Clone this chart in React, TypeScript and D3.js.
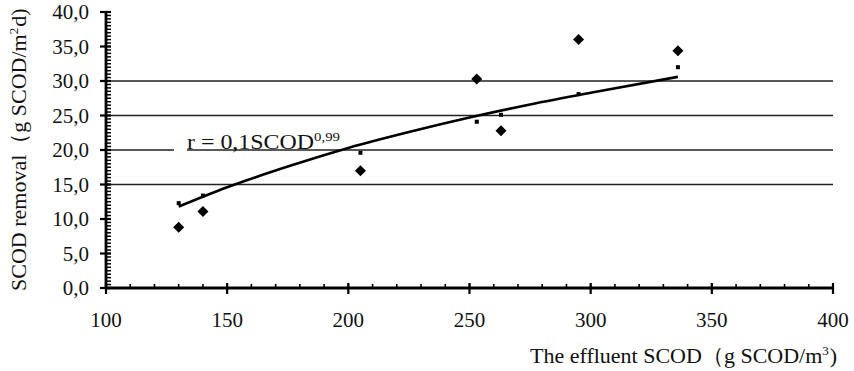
import React from "react";
import * as d3 from "d3";

const measuredX = [130, 140, 205, 253, 263, 295, 336];
const measuredY = [8.8, 11.1, 17.0, 30.3, 22.8, 36.0, 34.4];
const predictedX = [130, 140, 205, 253, 263, 295, 336];
const predictedY = [12.3, 13.4, 19.6, 24.1, 25.1, 28.1, 32.0];
const trendX = [130, 150, 175, 200, 225, 250, 275, 300, 336];
const trendY = [11.8, 14.6, 17.6, 20.3, 22.6, 24.7, 26.6, 28.3, 30.6];
const xTicks = [100, 150, 200, 250, 300, 350, 400];
const yTicks = [0, 5, 10, 15, 20, 25, 30, 35, 40];
const gridValues = [15, 20, 25, 30];

export default function App() {
  const W = 854, H = 371;
  const x = d3.scaleLinear().domain([100, 400]).range([106, 833]);
  const y = d3.scaleLinear().domain([0, 40]).range([288, 12]);
  const font = "'Liberation Serif', 'Times New Roman', serif";
  const line = d3
    .line<number>()
    .x((_, i) => x(trendX[i]))
    .y((d) => y(d))
    .curve(d3.curveMonotoneX);
  const yMinor = d3.range(0, 40.01, 0.5);
  const xMinor = d3.range(100, 400.01, 10);
  const fmt = (v: number) => v.toFixed(1).replace(".", ",");
  const dm = 5.5;
  const diamond = `M0,${-dm}L${dm},0L0,${dm}L${-dm},0Z`;
  return (
    <svg width={W} height={H} style={{ position: "absolute", left: 0, top: 0, background: "#fff" }}>
      <rect width={W} height={H} fill="#fff" />
      {gridValues.map((g) => (
        <line key={g} x1={x(100)} x2={x(400)} y1={y(g)} y2={y(g)} stroke="#222" strokeWidth={1.3} />
      ))}
      <rect x={174} y={y(20) - 2} width={13} height={4} fill="#fff" />
      <text x={187} y={y(20) - 1.5} fontFamily={font} fontSize={21} fill="#111" textLength={153} lengthAdjust="spacingAndGlyphs">
        r = 0,1SCOD<tspan dy={-8} fontSize={13}>0,99</tspan>
      </text>
      <path d={line(trendY) || ""} fill="none" stroke="#000" strokeWidth={2.6} />
      {predictedX.map((v, i) => (
        <rect key={"p" + i} x={x(v) - 2} y={y(predictedY[i]) - 2} width={4} height={4} fill="#000" />
      ))}
      {measuredX.map((v, i) => (
        <path key={"m" + i} d={diamond} transform={`translate(${x(v)},${y(measuredY[i])})`} fill="#000" />
      ))}
      {/* y axis */}
      <line x1={x(100)} x2={x(100)} y1={y(40)} y2={y(0)} stroke="#000" strokeWidth={2.8} />
      {yMinor.map((v) => (
        <line key={"ym" + v} x1={x(100)} x2={x(100) + 5} y1={y(v)} y2={y(v)} stroke="#000" strokeWidth={1.5} />
      ))}
      {yTicks.map((v) => (
        <g key={"yt" + v}>
          <line x1={x(100) - 6} x2={x(100) + 5} y1={y(v)} y2={y(v)} stroke="#000" strokeWidth={2.2} />
          <text x={89} y={y(v) + 7} textAnchor="end" fontFamily={font} fontSize={21} fill="#111">
            {fmt(v)}
          </text>
        </g>
      ))}
      {/* x axis */}
      <line x1={x(100)} x2={x(400)} y1={y(0)} y2={y(0)} stroke="#000" strokeWidth={2.8} />
      {xMinor.map((v) => (
        <line key={"xm" + v} x1={x(v)} x2={x(v)} y1={y(0)} y2={y(0) - 4} stroke="#000" strokeWidth={1.6} />
      ))}
      {xTicks.map((v) => (
        <g key={"xt" + v}>
          <line x1={x(v)} x2={x(v)} y1={y(0) - 5} y2={y(0) + 6} stroke="#000" strokeWidth={2.2} />
          <text x={x(v)} y={327} textAnchor="middle" fontFamily={font} fontSize={21} fill="#111">
            {v}
          </text>
        </g>
      ))}
      <text x={530} y={363} fontFamily={font} fontSize={22} fill="#111">
        The effluent SCOD（g SCOD/m<tspan dy={-8} fontSize={13}>3</tspan><tspan dy={8} dx={1}>)</tspan>
      </text>
      <text
        transform={`translate(26,291) rotate(-90)`}
        fontFamily={font}
        fontSize={22}
        fill="#111"
      >
        SCOD removal（g SCOD/m<tspan dy={-8} fontSize={13}>2</tspan><tspan dy={8} dx={1}>d)</tspan>
      </text>
    </svg>
  );
}
